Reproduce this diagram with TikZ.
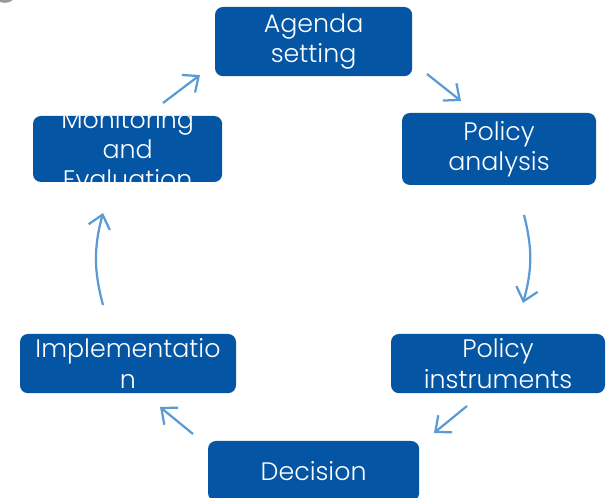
\documentclass[tikz,border=0pt]{standalone}
\usepackage{fontspec}
\setmainfont{Poppins}[UprightFont=* Light]
\usetikzlibrary{arrows.meta}
\definecolor{boxblue}{HTML}{0455A3}
\definecolor{arrblue}{HTML}{5B9BD5}
\tikzset{stage/.style={fill=boxblue,rounded corners=0.2cm,text=white,align=center,
                       inner sep=0pt,font=\fontsize{18}{21.5}\selectfont},
         flow/.style={arrblue,line width=1.6pt,-{Straight Barb[length=0.32cm,width=0.55cm]}}}
\def\darr{\draw[flow]}

\begin{document}
\begin{tikzpicture}
                \useasboundingbox (0,0) rectangle (15.15,12.45);
                \fill[gray!80] (0.12,12.72) circle (0.34);
                % stages
                \node[stage,minimum width=4.93cm,minimum height=1.73cm] (agenda) at (7.84,11.41) {Agenda\\setting};
                \node[stage,minimum width=4.85cm,minimum height=1.8cm] (analysis) at (12.475,8.725) {Policy\\analysis};
                \node[stage,minimum width=5.35cm,minimum height=1.48cm] (instr) at (12.45,3.36) {Policy\\instruments};
                \node[stage,minimum width=5.28cm,minimum height=1.5cm] (decision) at (7.84,0.675) {Decision};
                \node[stage,minimum width=5.4cm,minimum height=1.48cm] (impl) at (3.2,3.36) {Implementatio\\n};
                \node[stage,minimum width=4.73cm,minimum height=1.65cm] (mon) at (3.19,8.725) {};
                \begin{scope}
                \clip[rounded corners=0.2cm] (mon.south west) rectangle (mon.north east);
                \node[stage,fill=none] (montext) at (mon) {Monitoring\\and\\Evaluation};
                \end{scope}
                % arrow ends
                \coordinate (m1) at (4.075,9.875);  \coordinate (a0) at (5.0,10.575);
                \coordinate (a1) at (10.675,10.6);  \coordinate (p0) at (11.525,9.925);
                \coordinate (p1) at (13.1,7.075);   \coordinate (i0) at (13.075,4.875);
                \coordinate (i1) at (11.675,2.3);   \coordinate (d0) at (10.85,1.625);
                \coordinate (d1) at (4.825,1.6);    \coordinate (l0) at (4.0,2.275);
                \coordinate (l1) at (2.575,4.825);  \coordinate (m0) at (2.575,7.125);
                \darr (m1) -- (a0);
                \darr (a1) -- (p0);
                \darr (p1) to[bend left=15] (i0);
                \darr (i1) -- (d0);
                \darr (d1) -- (l0);
                \darr (l1) to[bend left=15] (m0);
            \end{tikzpicture}
\end{document}
